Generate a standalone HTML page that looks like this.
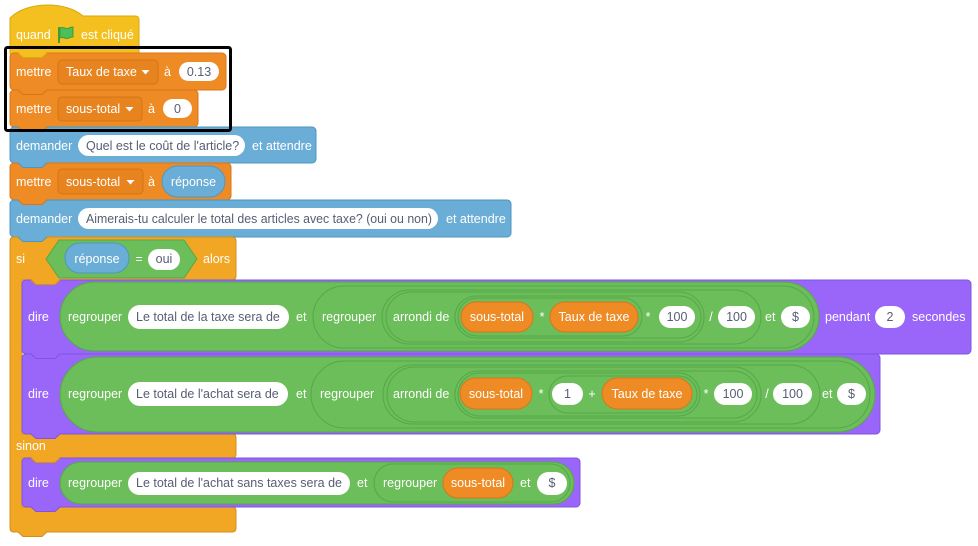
<!DOCTYPE html>
<html><head><meta charset="utf-8">
<style>
html,body{margin:0;padding:0;background:#fff;}
svg{display:block;}
text{font-family:"Liberation Sans",Arial,sans-serif;font-size:12.5px;fill:#fff;}
text.d{fill:#575E75;}
text.m{text-anchor:middle;}
</style></head><body>
<svg width="978" height="546" viewBox="0 0 978 546" xmlns="http://www.w3.org/2000/svg">
<rect x="0" y="0" width="978" height="546" fill="#fff"/>

<!-- HAT -->
<path d="M10,18 C27,1 66,1 83,16 H135 Q139,16 139,20 V54 H10 Z" fill="#F3C01F" stroke="#D9A80F" stroke-width="1"/>
<text x="16" y="39">quand</text>
<rect x="58" y="27" width="2" height="16" fill="#45993D"/>
<path d="M60,28 C63,26 66,30 69,28 C71,27 72,27 73,27 L73,37 C71,37 70,37 69,38 C66,40 63,36 60,38 Z" fill="#4CBF56" stroke="#45993D" stroke-width="1"/>
<text x="81" y="39">est cliqué</text>

<!-- METTRE 1 -->
<rect x="10" y="53" width="216" height="37" rx="4" fill="#EE8B24" stroke="#D9761A" stroke-width="1"/>
<!-- METTRE 2 -->
<rect x="10" y="90" width="188" height="37" rx="4" fill="#EE8B24" stroke="#D9761A" stroke-width="1"/>
<!-- DEMANDER 1 -->
<rect x="10" y="127" width="306" height="36" rx="4" fill="#6AADD6" stroke="#4C97C0" stroke-width="1"/>
<!-- METTRE 3 -->
<rect x="10" y="163" width="221" height="37" rx="4" fill="#EE8B24" stroke="#D9761A" stroke-width="1"/>
<!-- DEMANDER 2 -->
<rect x="10" y="200" width="501" height="37" rx="4" fill="#6AADD6" stroke="#4C97C0" stroke-width="1"/>

<!-- SI C-BLOCK -->
<path d="M14,237 H232 Q236,237 236,241 V276 Q236,280 232,280 H22 V434 H232 Q236,434 236,438 V454 Q236,458 232,458 H22 V507 H232 Q236,507 236,511 V528 Q236,532 232,532 H14 Q10,532 10,528 V241 Q10,237 14,237 Z" fill="#F2A724" stroke="#D48F18" stroke-width="1"/>

<!-- DIRE 1 -->
<rect x="22" y="280" width="949" height="74" rx="4" fill="#9A66FA" stroke="#7E55DE" stroke-width="1"/>
<!-- DIRE 2 -->
<rect x="22" y="354" width="858" height="80" rx="4" fill="#9A66FA" stroke="#7E55DE" stroke-width="1"/>
<!-- DIRE 3 -->
<rect x="22" y="458" width="558" height="49" rx="4" fill="#9A66FA" stroke="#7E55DE" stroke-width="1"/>

<!-- TABS -->
<g stroke-width="1">
<path d="M18,52 L23,57.5 H42 L47,52 Z" fill="#F3C01F"/><path d="M18,53 L23,57.5 H42 L47,53" fill="none" stroke="#D9A80F"/>
<path d="M18,89 L23,94.5 H42 L47,89 Z" fill="#EE8B24"/><path d="M18,90 L23,94.5 H42 L47,90" fill="none" stroke="#D9761A"/>
<path d="M18,126 L23,131.5 H42 L47,126 Z" fill="#EE8B24"/><path d="M18,127 L23,131.5 H42 L47,127" fill="none" stroke="#D9761A"/>
<path d="M18,162 L23,167.5 H42 L47,162 Z" fill="#6AADD6"/><path d="M18,163 L23,167.5 H42 L47,163" fill="none" stroke="#4C97C0"/>
<path d="M18,199 L23,204.5 H42 L47,199 Z" fill="#EE8B24"/><path d="M18,200 L23,204.5 H42 L47,200" fill="none" stroke="#D9761A"/>
<path d="M18,236 L23,241.5 H42 L47,236 Z" fill="#6AADD6"/><path d="M18,237 L23,241.5 H42 L47,237" fill="none" stroke="#4C97C0"/>
<path d="M31,279 L36,284.5 H55 L60,279 Z" fill="#F2A724"/><path d="M31,280 L36,284.5 H55 L60,280" fill="none" stroke="#D48F18"/>
<path d="M31,353 L36,358.5 H55 L60,353 Z" fill="#9A66FA"/><path d="M31,354 L36,358.5 H55 L60,354" fill="none" stroke="#7E55DE"/>
<path d="M31,433 L36,438.5 H55 L60,433 Z" fill="#9A66FA"/><path d="M31,434 L36,438.5 H55 L60,434" fill="none" stroke="#7E55DE"/>
<path d="M31,457 L36,462.5 H55 L60,457 Z" fill="#F2A724"/><path d="M31,458 L36,462.5 H55 L60,458" fill="none" stroke="#D48F18"/>
<path d="M31,506 L36,511.5 H55 L60,506 Z" fill="#9A66FA"/><path d="M31,507 L36,511.5 H55 L60,507" fill="none" stroke="#7E55DE"/>
<path d="M18,531 L23,536.5 H42 L47,531 Z" fill="#F2A724"/><path d="M18,532 L23,536.5 H42 L47,532" fill="none" stroke="#D48F18"/>
</g>

<!-- METTRE 1 content -->
<text x="16" y="76">mettre</text>
<rect x="58" y="60" width="100" height="24" rx="4" fill="#E8841F" stroke="#D57415" stroke-width="1"/>
<text x="66" y="76">Taux de taxe</text>
<path d="M141.5,70 H149.5 L145.5,74.5 Z" fill="#fff"/>
<text x="164" y="76">à</text>
<rect x="179" y="62" width="40" height="19" rx="9.5" fill="#fff"/>
<text class="d m" x="199" y="76">0.13</text>

<!-- METTRE 2 content -->
<text x="16" y="113">mettre</text>
<rect x="58" y="97" width="84" height="24" rx="4" fill="#E8841F" stroke="#D57415" stroke-width="1"/>
<text x="66" y="113">sous-total</text>
<path d="M125.5,107 H133.5 L129.5,111.5 Z" fill="#fff"/>
<text x="148" y="113">à</text>
<rect x="163" y="99" width="29" height="19" rx="9.5" fill="#fff"/>
<text class="d m" x="177.5" y="113">0</text>

<!-- DEMANDER 1 content -->
<text x="16" y="150">demander</text>
<rect x="78" y="135" width="167" height="21" rx="10.5" fill="#fff"/>
<text class="d" x="86" y="150">Quel est le coût de l'article?</text>
<text x="252" y="150">et attendre</text>

<!-- METTRE 3 content -->
<text x="16" y="186">mettre</text>
<rect x="58" y="169" width="85" height="25" rx="4" fill="#E8841F" stroke="#D57415" stroke-width="1"/>
<text x="66" y="186">sous-total</text>
<path d="M126.5,180 H134.5 L130.5,184.5 Z" fill="#fff"/>
<text x="148" y="186">à</text>
<rect x="162" y="166" width="63" height="31" rx="15.5" fill="#6AADD6" stroke="#4F97C2" stroke-width="1"/>
<text class="m" x="193.5" y="186">réponse</text>

<!-- DEMANDER 2 content -->
<text x="16" y="223">demander</text>
<rect x="78" y="208" width="360" height="21" rx="10.5" fill="#fff"/>
<text class="d" x="86" y="223" textLength="346" lengthAdjust="spacingAndGlyphs">Aimerais-tu calculer le total des articles avec taxe? (oui ou non)</text>
<text x="446" y="223">et attendre</text>

<!-- SI content -->
<text x="16" y="263">si</text>
<path d="M46,259 L59,240 H184 L197,259 L184,278 H59 Z" fill="#6BBE59" stroke="#55A847" stroke-width="1"/>
<rect x="65" y="243" width="64" height="30" rx="15" fill="#6AADD6" stroke="#4F97C2" stroke-width="1"/>
<text class="m" x="97" y="263">réponse</text>
<text class="m" x="139" y="263">=</text>
<rect x="148" y="249" width="32" height="21" rx="10.5" fill="#fff"/>
<text class="d m" x="164" y="263">oui</text>
<text x="203" y="263">alors</text>

<text x="16" y="450">sinon</text>

<!-- DIRE 1 content -->
<g fill="#6BBE59" stroke="#55A847" stroke-width="1">
<rect x="60" y="282" width="759" height="69" rx="34.5"/>
<rect x="313" y="286" width="501" height="62" rx="31"/>
<rect x="382" y="290" width="379" height="54" rx="27"/>
<rect x="386" y="292" width="318" height="50" rx="25"/>
<rect x="455" y="296" width="246" height="42" rx="21"/>
<rect x="458" y="298" width="184" height="38" rx="19"/>
</g>
<text x="28" y="321">dire</text>
<text x="68" y="321">regrouper</text>
<rect x="128" y="305" width="161" height="24" rx="12" fill="#fff"/>
<text class="d" x="136" y="321">Le total de la taxe sera de</text>
<text x="296" y="321">et</text>
<text x="322" y="321">regrouper</text>
<text x="393" y="321">arrondi de</text>
<rect x="461" y="302" width="72" height="30" rx="15" fill="#EE8B24" stroke="#D9761A" stroke-width="1"/>
<text class="m" x="497" y="321">sous-total</text>
<text class="m" x="542" y="321">*</text>
<rect x="550" y="302" width="88" height="30" rx="15" fill="#EE8B24" stroke="#D9761A" stroke-width="1"/>
<text class="m" x="594" y="321">Taux de taxe</text>
<text class="m" x="648" y="321">*</text>
<rect x="659" y="306" width="36" height="22" rx="11" fill="#fff"/>
<text class="d m" x="677" y="321">100</text>
<text class="m" x="711" y="321">/</text>
<rect x="718" y="306" width="37" height="22" rx="11" fill="#fff"/>
<text class="d m" x="736.5" y="321">100</text>
<text x="765" y="321">et</text>
<rect x="781" y="306" width="29" height="22" rx="11" fill="#fff"/>
<text class="d m" x="795.5" y="321">$</text>
<text x="825" y="321">pendant</text>
<rect x="875" y="306" width="30" height="22" rx="11" fill="#fff"/>
<text class="d m" x="890" y="321">2</text>
<text x="912" y="321">secondes</text>

<!-- DIRE 2 content -->
<g fill="#6BBE59" stroke="#55A847" stroke-width="1">
<rect x="60" y="357" width="815" height="75" rx="37.5"/>
<rect x="311" y="361" width="559" height="67" rx="33.5"/>
<rect x="383" y="365" width="437" height="59" rx="29.5"/>
<rect x="387" y="367" width="374" height="55" rx="27.5"/>
<rect x="455" y="371" width="302" height="47" rx="23.5"/>
<rect x="458" y="373" width="242" height="43" rx="21.5"/>
<rect x="549" y="376" width="148" height="37" rx="18.5"/>
</g>
<text x="28" y="398">dire</text>
<text x="68" y="398">regrouper</text>
<rect x="128" y="382" width="160" height="24" rx="12" fill="#fff"/>
<text class="d" x="136" y="398">Le total de l'achat sera de</text>
<text x="296" y="398">et</text>
<text x="320" y="398">regrouper</text>
<text x="393" y="398">arrondi de</text>
<rect x="460" y="378" width="72" height="31" rx="15.5" fill="#EE8B24" stroke="#D9761A" stroke-width="1"/>
<text class="m" x="496" y="398">sous-total</text>
<text class="m" x="541" y="398">*</text>
<rect x="552" y="383" width="31" height="22" rx="11" fill="#fff"/>
<text class="d m" x="567.5" y="398">1</text>
<text class="m" x="592" y="398">+</text>
<rect x="602" y="378" width="90" height="31" rx="15.5" fill="#EE8B24" stroke="#D9761A" stroke-width="1"/>
<text class="m" x="647" y="398">Taux de taxe</text>
<text class="m" x="706" y="398">*</text>
<rect x="714" y="383" width="38" height="22" rx="11" fill="#fff"/>
<text class="d m" x="733" y="398">100</text>
<text class="m" x="767" y="398">/</text>
<rect x="773" y="383" width="39" height="22" rx="11" fill="#fff"/>
<text class="d m" x="792.5" y="398">100</text>
<text x="822" y="398">et</text>
<rect x="837" y="383" width="29" height="22" rx="11" fill="#fff"/>
<text class="d m" x="851.5" y="398">$</text>

<!-- DIRE 3 content -->
<g fill="#6BBE59" stroke="#55A847" stroke-width="1">
<rect x="60" y="462" width="514" height="42" rx="21"/>
<rect x="374" y="464" width="196" height="38" rx="19"/>
</g>
<text x="28" y="487">dire</text>
<text x="68" y="487">regrouper</text>
<rect x="128" y="472" width="222" height="23" rx="11.5" fill="#fff"/>
<text class="d" x="136" y="487">Le total de l'achat sans taxes sera de</text>
<text x="357" y="487">et</text>
<text x="383" y="487">regrouper</text>
<rect x="443" y="468" width="70" height="30" rx="15" fill="#EE8B24" stroke="#D9761A" stroke-width="1"/>
<text class="m" x="478" y="487">sous-total</text>
<text x="520" y="487">et</text>
<rect x="537" y="472" width="30" height="23" rx="11.5" fill="#fff"/>
<text class="d m" x="552" y="487">$</text>

<!-- BLACK HIGHLIGHT -->
<rect x="5.5" y="47.5" width="225" height="83" rx="2" fill="none" stroke="#000" stroke-width="3"/>
</svg>
</body></html>
